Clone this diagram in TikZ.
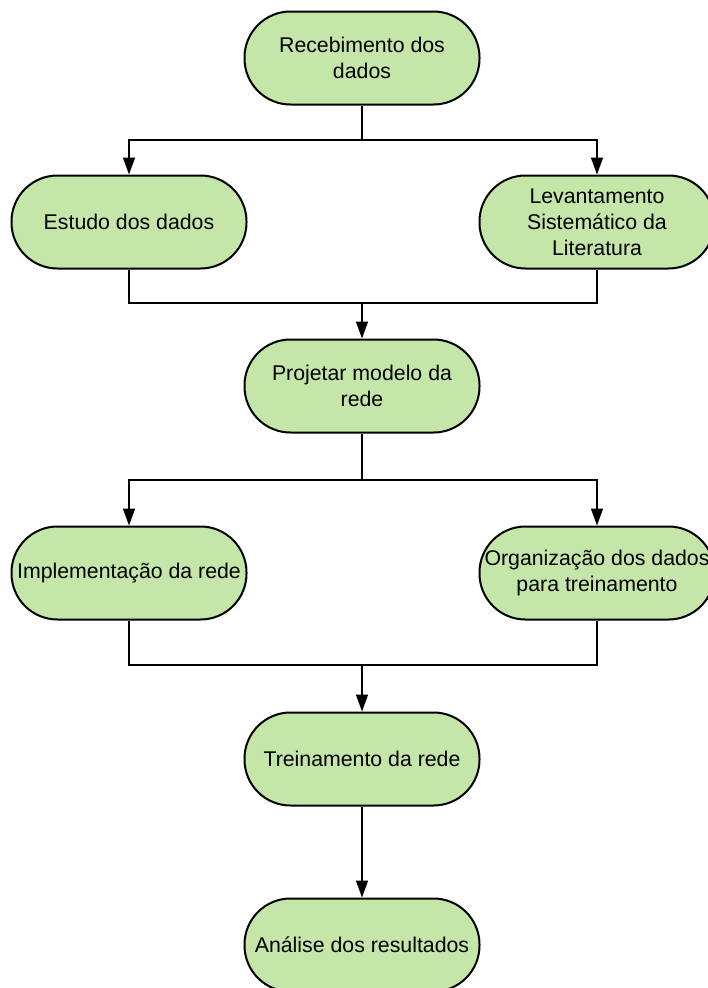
\documentclass[tikz,border=0pt]{standalone}
\usepackage{fontspec}
\setmainfont{Liberation Sans}
\usetikzlibrary{arrows.meta}
\definecolor{boxfill}{HTML}{C5E6A9}
\tikzset{
  stepbox/.style={draw=black, line width=2pt, fill=boxfill, rounded corners=46pt,
    minimum width=235pt, minimum height=93pt, align=center, inner sep=0pt,
    font=\fontsize{21.3pt}{26pt}\selectfont},
  link/.style={line width=1.6pt, draw=black},
  arr/.style={link, -{Triangle[width=12pt,length=17pt]}}
}
\begin{document}
\begin{tikzpicture}[x=1pt,y=-1pt]
\useasboundingbox (0,0) rectangle (708,988);
\node[stepbox] (rec) at (362,58) {Recebimento dos\\dados};
\node[stepbox] (est) at (129,222) {Estudo dos dados};
\node[stepbox] (lev) at (597,222) {Levantamento\\Sistemático da\\Literatura};
\node[stepbox] (proj) at (362,386) {Projetar modelo da\\rede};
\node[stepbox] (impl) at (129,573) {Implementação da rede};
\node[stepbox] (org) at (597,573) {Organização dos dados\\para treinamento};
\node[stepbox] (trein) at (362,759) {Treinamento da rede};
\node[stepbox] (ana) at (362,945) {Análise dos resultados};

% fork after receiving the data
\coordinate (s1) at (362,140);
\draw[link] (rec.south) -- (s1);
\draw[arr] (s1) -| (est.north);
\draw[arr] (s1) -| (lev.north);

% join into the model design
\coordinate (j1) at (362,303);
\draw[link] (est.south) |- (j1);
\draw[link] (lev.south) |- (j1);
\draw[arr] (j1) -- (proj.north);

% second fork
\coordinate (s2) at (362,480);
\draw[link] (proj.south) -- (s2);
\draw[arr] (s2) -| (impl.north);
\draw[arr] (s2) -| (org.north);

% second join
\coordinate (j2) at (362,665);
\draw[link] (impl.south) |- (j2);
\draw[link] (org.south) |- (j2);
\draw[arr] (j2) -- (trein.north);

\draw[arr] (trein.south) -- (ana.north);
\end{tikzpicture}
\end{document}
